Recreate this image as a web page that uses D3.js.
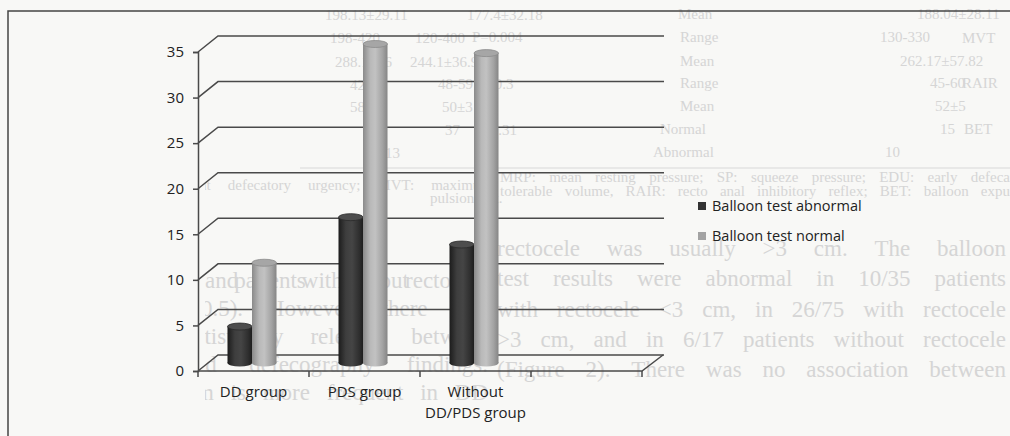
<!DOCTYPE html>
<html>
<head>
<meta charset="utf-8">
<script src="https://cdn.jsdelivr.net/npm/d3@7"></script>
<style>
  html, body { margin: 0; padding: 0; background: #f8f8f6; }
  svg { display: block; }
</style>
</head>
<body>
<svg id="chart" width="1010" height="436"></svg>
<script>
// Balloon expulsion test results by patient group
const categories = ["DD group", "PDS group", "Without\nDD/PDS group"];
const seriesNames = ["Balloon test abnormal", "Balloon test normal"];
const abnormal = [4, 16, 13];
const normal = [11, 35, 34];
const yTicks = [0, 5, 10, 15, 20, 25, 30, 35];

// Faint printed page text showing behind the figure
const rightColumn = [
  "rectocele was usually >3 cm. The balloon",
  "test results were abnormal in 10/35 patients",
  "with rectocele <3 cm, in 26/75 with rectocele",
  ">3 cm, and in 6/17 patients without rectocele",
  "(Figure 2). There was no association between"
];
const leftColumn = [
  "and patients with without rectocele",
  "and <3 cm) (P=0.5). However, there was",
  "no association statistically relevant between",
  "size rectocele and defecography findings.",
  "the rectocele <3 cm is more frequent in DD"
];
const tableCells = [
  ["198.13±29.11", 325, 20], ["177.4±32.18", 467, 20], ["Mean", 678, 19], ["188.04±28.11", 917, 19],
  ["198-420", 330, 43], ["120-400", 415, 43], ["P=0.004", 472, 42], ["Range", 680, 42], ["130-330", 880, 42], ["MVT", 962, 43],
  ["288.1±56", 335, 67], ["244.1±36.93", 410, 67], ["Mean", 680, 66], ["262.17±57.82", 900, 66],
  ["42-59", 350, 90], ["48-59", 438, 89], ["P=0.3", 478, 89], ["Range", 680, 88], ["45-60", 930, 88], ["RAIR", 962, 88],
  ["58±4", 350, 112], ["50±3", 442, 112], ["Mean", 680, 111], ["52±5", 935, 111],
  ["37", 445, 135], ["P=0.31", 474, 135], ["Normal", 660, 134], ["15", 940, 134], ["BET", 964, 134],
  ["13", 385, 158], ["Abnormal", 653, 157], ["10", 885, 157]
];
const footnotes = [
  ["urgency, CDU: constant defecatory urgency; MVT: maximum", 40, 492, 190],
  ["pulsion test.", 430, null, 203],
  ["MRP: mean resting pressure; SP: squeeze pressure; EDU: early defeca", 500, 1010, 182],
  ["tolerable volume, RAIR: recto anal inhibitory reflex; BET: balloon expu", 500, 1010, 196]
];

const svg = d3.select("#chart");
const W = 1010, H = 436;
const defs = svg.append("defs");

// ---- page background text ----
defs.append("clipPath").attr("id", "pageClip")
  .append("rect").attr("x", 205).attr("y", 0).attr("width", W - 205).attr("height", H);

const bg = svg.append("g").attr("fill", "#d5d5d5").attr("clip-path", "url(#pageClip)")
  .style("font-family", "'Liberation Serif', 'DejaVu Serif', serif");

function justify(g, text, xa, xb, yy, size) {
  const words = text.split(" ");
  const t = g.append("text").attr("y", yy).style("font-size", size + "px");
  const spans = words.map(w => t.append("tspan").text(w));
  const widths = spans.map(s => s.node().getComputedTextLength());
  const total = d3.sum(widths);
  const gap = words.length > 1 ? (xb - xa - total) / (words.length - 1) : 0;
  let xx = xa;
  spans.forEach((s, i) => { s.attr("x", xx); xx += widths[i] + gap; });
}
rightColumn.forEach((l, i) => justify(bg, l, 497, 1006, 256 + i * 30.3, 23));
leftColumn.forEach((l, i) => justify(bg, l, i ? 0 : 205, 488, 288 + i * 28, 23));
tableCells.forEach(([t, tx, ty]) => bg.append("text").attr("x", tx).attr("y", ty)
  .style("font-size", "15px").text(t));
footnotes.forEach(([t, fa, fb, fy]) => {
  if (fb) justify(bg, t, fa, fb, fy, 15);
  else bg.append("text").attr("x", fa).attr("y", fy).style("font-size", "15px").text(t);
});
bg.append("line").attr("x1", 300).attr("x2", W).attr("y1", 168).attr("y2", 168)
  .attr("stroke", "#d8d8d8").attr("stroke-width", 1.2);

// ---- plot geometry ----
const x0 = 198, x1 = 642;          // front floor edge
const yBase = 371, yTop = 52;      // front value range for 0..35
const depthX = 20, depthY = -16;   // back wall offset

const slots = categories.concat([""]);
const x = d3.scaleBand().domain(slots).range([x0, x1]);
const y = d3.scaleLinear().domain([0, 35]).range([yBase, yTop]);

const gridColor = "#4a4a4a";

// back wall gridlines with their slanted side-wall stubs
const grid = svg.append("g").attr("fill", "none").attr("stroke", gridColor).attr("stroke-width", 1.5);
yTicks.forEach(v => {
  grid.append("path").attr("d", d3.line()([
    [x0, y(v)], [x0 + depthX, y(v) + depthY], [x1 + depthX + 2, y(v) + depthY]
  ]));
});
// floor front edge and right slant
grid.append("path").attr("d", d3.line()([
  [x0, y(0)], [x1, y(0)], [x1 + depthX + 1, y(0) + depthY]
]));

// ---- axes ----
const axisFont = "'Open Sans', 'Noto Sans', sans-serif";
const yAxis = svg.append("g").attr("transform", `translate(${x0},0)`)
  .call(d3.axisLeft(y).tickValues(yTicks).tickSize(5).tickPadding(9).tickFormat(d3.format("d")));
yAxis.select(".domain").attr("stroke", gridColor).attr("stroke-width", 1.5);
yAxis.selectAll(".tick line").attr("stroke", gridColor).attr("stroke-width", 1.5);
yAxis.selectAll(".tick text").style("font-family", axisFont).style("font-size", "15px").attr("fill", "#222");

// x ticks at slot boundaries
const bounds = slots.map(s => x(s)).concat([x1]);
svg.append("g").selectAll("line").data(bounds).join("line")
  .attr("x1", d => d).attr("x2", d => d)
  .attr("y1", y(0)).attr("y2", y(0) + 6)
  .attr("stroke", gridColor).attr("stroke-width", 1.5);

// category labels
const labels = svg.append("g").style("font-family", axisFont).style("font-size", "15px").attr("fill", "#222")
  .attr("text-anchor", "middle");
categories.forEach(c => {
  const parts = c.split("\n");
  const cx = x(c) + x.bandwidth() / 2;
  const t = labels.append("text").attr("x", cx).attr("y", 397);
  parts.forEach((p, i) => t.append("tspan").attr("x", cx).attr("dy", i ? 21 : 0).text(p));
});

// ---- cylinders ----
function grad(id, stops) {
  const g = defs.append("linearGradient").attr("id", id).attr("x1", 0).attr("x2", 1).attr("y1", 0).attr("y2", 0);
  stops.forEach(([o, c]) => g.append("stop").attr("offset", o).attr("stop-color", c));
}
grad("gDark", [[0, "#1c1c1c"], [0.3, "#3e3e3e"], [0.55, "#454545"], [0.85, "#2e2e2e"], [1, "#1e1e1e"]]);
grad("gLight", [[0, "#8a8a8a"], [0.3, "#b9b9b9"], [0.5, "#c2c2c2"], [0.8, "#a3a3a3"], [1, "#858585"]]);

const series = [
  { name: seriesNames[0], values: abnormal, body: "url(#gDark)", cap: "#4d4d4d", rim: "#2a2a2a" },
  { name: seriesNames[1], values: normal, body: "url(#gLight)", cap: "#a6a6a6", rim: "#8a8a8a" }
];
const xs = d3.scaleBand().domain(seriesNames).range([0, 49]);
const bw = xs.bandwidth();
const ry = 3.5;
const lift = depthY / 2;   // bars stand half-way into the floor

const bars = svg.append("g");
series.forEach(s => {
  categories.forEach((c, i) => {
    const left = x(c) + x.bandwidth() / 2 - 26 + xs(s.name);
    const cx = left + bw / 2;
    const yb = y(0) + lift;
    const yt = y(s.values[i]) + lift;
    const g = bars.append("g");
    g.append("ellipse").attr("cx", cx).attr("cy", yb).attr("rx", bw / 2).attr("ry", ry).attr("fill", s.body);
    g.append("rect").attr("x", left).attr("y", yt).attr("width", bw).attr("height", yb - yt).attr("fill", s.body);
    g.append("ellipse").attr("cx", cx).attr("cy", yt).attr("rx", bw / 2).attr("ry", ry)
      .attr("fill", s.cap).attr("stroke", s.rim).attr("stroke-width", 0.8);
  });
});

// ---- legend ----
const legend = svg.append("g").style("font-family", axisFont).style("font-size", "14.5px").attr("fill", "#222");
series.forEach((s, i) => {
  const ly = 206 + i * 30;
  legend.append("rect").attr("x", 698).attr("y", ly - 4).attr("width", 8).attr("height", 8)
    .attr("fill", i ? "#a3a3a3" : "#333");
  legend.append("text").attr("x", 712).attr("y", ly + 5).text(s.name);
});

// ---- frame ----
svg.append("path").attr("fill", "none").attr("stroke", "#444").attr("stroke-width", 1.5)
  .attr("d", d3.line()([[8, H], [8, 11], [W, 11]]));
</script>
</body>
</html>
